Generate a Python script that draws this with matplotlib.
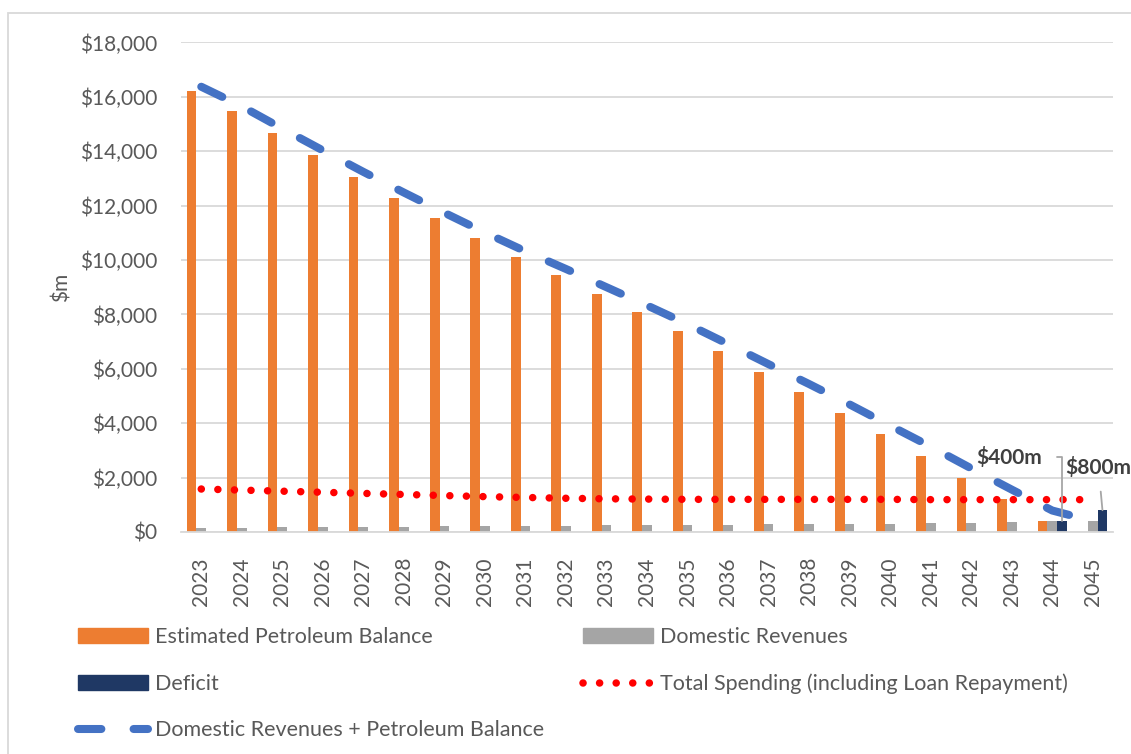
import numpy as np
import matplotlib.pyplot as plt
from matplotlib.lines import Line2D
from matplotlib.patches import Patch, Rectangle
from matplotlib.ticker import FuncFormatter

plt.rcParams['font.family'] = ['Lato', 'DejaVu Sans']

# data ($m)
years = [str(y) for y in range(2023, 2046)]
petroleum_balance = [16220, 15490, 14660, 13850, 13050, 12280, 11530, 10800,
                     10100, 9440, 8760, 8080, 7380, 6640, 5890, 5150, 4390,
                     3600, 2810, 2000, 1200, 400, 0]
domestic_revenues = [150, 160, 170, 180, 190, 200, 205, 210, 220, 230, 240,
                     250, 260, 270, 280, 290, 300, 310, 330, 340, 360, 390, 400]
deficit = [0] * 21 + [400, 800]
total_spending = [1580, 1540, 1500, 1460, 1420, 1380, 1340, 1300, 1270, 1240,
                  1220, 1210, 1200, 1200, 1200, 1200, 1200, 1200, 1190, 1190,
                  1190, 1190, 1190]
deficit_labels = ["$400m", "$800m"]

# combined line = domestic revenues + petroleum balance
combined = np.array(petroleum_balance) + np.array(domestic_revenues)

ORANGE = "#ED7D31"
GRAY = "#A5A5A5"
NAVY = "#1F3864"
BLUE = "#4472C4"
RED = "#FF0000"
TXT = "#595959"
GRID = "#D9D9D9"

fig = plt.figure(figsize=(11.31, 7.54), dpi=100)
ax = fig.add_axes([181 / 1131, 1 - 532 / 754, 932 / 1131, 489.6 / 754])

x = np.arange(len(years))
w = 0.24
ax.bar(x - w, petroleum_balance, w, color=ORANGE, zorder=2)
ax.bar(x, domestic_revenues, w, color=GRAY, zorder=2)
ax.bar(x + w, deficit, w, color=NAVY, zorder=2)

blue_style = dict(color=BLUE, lw=5.8, linestyle=(0, (2.9, 4.0)),
                  dash_capstyle='round')
red_style = dict(color=RED, lw=5.4, linestyle=(0, (0.01, 2.2)),
                 dash_capstyle='round')
ax.plot(x, combined, zorder=3, **blue_style)
ax.plot(x, total_spending, zorder=3, **red_style)

# axes styling
ax.set_xlim(-0.5, len(years) - 0.5)
ax.set_ylim(0, 18000)
ax.set_yticks(np.arange(0, 18001, 2000))
ax.yaxis.set_major_formatter(FuncFormatter(lambda v, p: f"${v:,.0f}"))
ax.set_xticks(x)
ax.set_xticklabels(years, rotation=90)
ax.tick_params(axis='y', length=0, pad=17, labelsize=15, labelcolor=TXT)
ax.tick_params(axis='x', length=0, pad=18, labelsize=15, labelcolor=TXT)
ax.grid(axis='y', color=GRID, lw=1.3, zorder=0)
ax.set_axisbelow(True)
for s in ['top', 'right', 'left']:
    ax.spines[s].set_visible(False)
ax.spines['bottom'].set_color(GRID)
ax.spines['bottom'].set_linewidth(1.3)
ax.set_ylabel("$m", fontsize=15, color=TXT)
ax.yaxis.set_label_coords(-0.118, 0.5)

# deficit callouts
lead = dict(arrowstyle='-', color="#A6A6A6", lw=1.3, shrinkB=0)
ax.annotate(deficit_labels[0], xy=(21 + w, deficit[21]), xytext=(-20, 64),
            textcoords='offset pixels', ha='right', va='center',
            fontsize=15, fontweight='bold', color="#404040",
            arrowprops=dict(connectionstyle='angle,angleA=0,angleB=90,rad=0',
                            shrinkA=9, **lead), annotation_clip=False)
ax.annotate(deficit_labels[1], xy=(22 + w, deficit[22]), xytext=(-4, 43),
            textcoords='offset pixels', ha='center', va='center',
            fontsize=15, fontweight='bold', color="#404040",
            arrowprops=dict(shrinkA=8, **lead), annotation_clip=False)

# legend
h1 = [Patch(color=ORANGE), Patch(color=NAVY), Line2D([], [], **blue_style)]
l1 = ["Estimated Petroleum Balance", "Deficit",
      "Domestic Revenues + Petroleum Balance"]
h2 = [Patch(color=GRAY), Line2D([], [], **red_style)]
l2 = ["Domestic Revenues", "Total Spending (including Loan Repayment)"]
common = dict(loc='upper left', frameon=False, borderpad=0, borderaxespad=0,
              handlelength=3.25, handletextpad=0.33, labelspacing=1.24,
              fontsize=15.5, labelcolor=TXT)
fig.legend(h1, l1, bbox_to_anchor=(78 / 1131, 1 - 627 / 754), **common)
fig.legend(h2, l2, bbox_to_anchor=(583 / 1131, 1 - 627 / 754), **common)

# chart border
fig.add_artist(Rectangle((8 / 1131, -0.1), 1.2, 1 - 13 / 754 + 0.1,
                         transform=fig.transFigure, fill=False,
                         edgecolor=GRID, lw=1.3))

fig.savefig("out.png", dpi=100)
